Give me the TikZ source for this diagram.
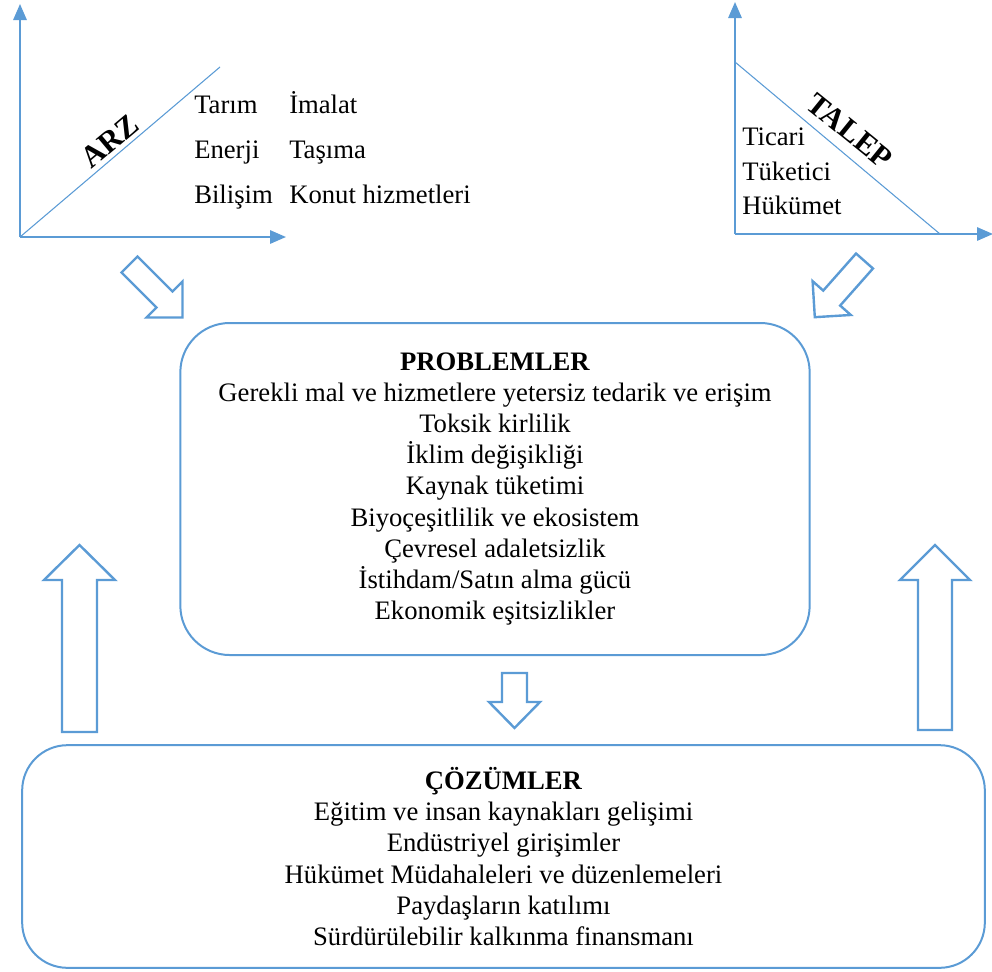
\documentclass[tikz,border=0pt]{standalone}
\usepackage{fontspec}
\setmainfont{Liberation Serif}
\usetikzlibrary{arrows.meta}
\definecolor{lineblue}{HTML}{5B9BD5}

\begin{document}
\begin{tikzpicture}[x=0.75pt, y=-0.75pt,
    axisline/.style={lineblue, line width=1.5pt,
      -{Triangle[length=12pt,width=10pt]}},
    trendline/.style={lineblue, line width=0.8pt},
    itemtext/.style={font=\fontsize{20pt}{24pt}\selectfont, anchor=base west,
      inner sep=0pt},
    axistitle/.style={font=\bfseries\fontsize{23pt}{28pt}\selectfont,
      inner sep=0pt},
    panel/.style={draw=lineblue, line width=1.5pt, rounded corners=37pt,
      align=center, font=\fontsize{20pt}{23.4pt}\selectfont},
    arrowline/.style={draw=lineblue, line width=1.8pt, fill=white,
      line join=miter},
    pics/blockarrow/.style n args={4}{code={
        \draw[arrowline] (0,-#3) -- ({#1-#2},-#3) -- ({#1-#2},-#4) -- (#1,0)
        -- ({#1-#2},#4) -- ({#1-#2},#3) -- (0,#3) -- cycle;}} ]

    \useasboundingbox (0,0) rectangle (992,971);

    % Supply axes
    \coordinate (arzO) at (20,237); \coordinate (arzY) at (20,4);
    \coordinate (arzX) at (286,237); \coordinate (arzEnd) at (220,67);
    \draw[axisline] (arzO) -- (arzY); \draw[axisline] (arzO) -- (arzX);
    \draw[trendline] (arzO) -- (arzEnd);
    \node[axistitle, rotate=40] (arz) at (110,141) {ARZ};

    % Supply sectors
    \node[itemtext] (tarim) at (194,113) {Tarım};
    \node[itemtext] (enerji) at (194,158) {Enerji};
    \node[itemtext] (bilisim) at (194,203) {Bilişim};
    \node[itemtext] (imalat) at (289,113) {İmalat};
    \node[itemtext] (tasima) at (289,158) {Taşıma};
    \node[itemtext] (konut) at (289,203) {Konut hizmetleri};

    % Demand axes
    \coordinate (talepO) at (735,234); \coordinate (talepY) at (735,2);
    \coordinate (talepX) at (993,234); \coordinate (talepTop) at (735,62);
    \coordinate (talepEnd) at (940,234);
    \draw[axisline] (talepO) -- (talepY); \draw[axisline] (talepO) -- (talepX);
    \draw[trendline] (talepTop) -- (talepEnd);
    \node[axistitle, rotate=-39] (talep) at (850,131) {TALEP};

    % Demand sectors
    \node[itemtext] (ticari) at (742,145) {Ticari};
    \node[itemtext] (tuketici) at (742,180) {Tüketici};
    \node[itemtext] (hukumet) at (742,214) {Hükümet};

    % Problems and solutions
    \node[panel, minimum width=472pt, minimum height=249pt] (problemler)
    at (495,489) {\textbf{PROBLEMLER}\\
      Gerekli mal ve hizmetlere yetersiz tedarik ve erişim\\
      Toksik kirlilik\\ İklim değişikliği\\ Kaynak tüketimi\\
      Biyoçeşitlilik ve ekosistem\\ Çevresel adaletsizlik\\
      İstihdam/Satın alma gücü\\ Ekonomik eşitsizlikler};
    \node[panel, rounded corners=34pt, minimum width=722pt,
      minimum height=167pt] (cozumler) at (503.5,856.5)
    {\textbf{ÇÖZÜMLER}\\ Eğitim ve insan kaynakları gelişimi\\
      Endüstriyel girişimler\\ Hükümet Müdahaleleri ve düzenlemeleri\\
      Paydaşların katılımı\\ Sürdürülebilir kalkınma finansmanı};

    % Block arrows
    \pic[rotate=-45] at (129.5,264.5) {blockarrow={75}{25.5}{11.3}{25.5}};
    \pic[rotate=-131.5] at (864.5,261) {blockarrow={75}{25.5}{11.3}{25.5}};
    \pic[rotate=-90] at (514.5,673) {blockarrow={55}{26}{12.5}{25.5}};
    \pic[rotate=90] at (79.5,732) {blockarrow={187}{35}{17.5}{35.5}};
    \pic[rotate=90] at (935,730) {blockarrow={185}{35}{17}{35}};

\end{tikzpicture}
\end{document}
